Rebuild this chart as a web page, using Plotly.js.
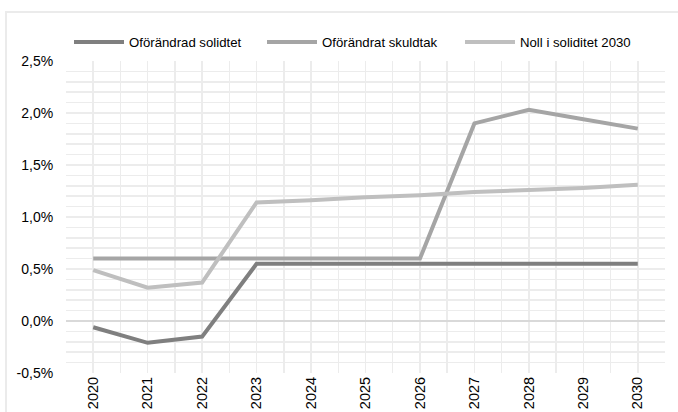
<!DOCTYPE html>
<html><head><meta charset="utf-8">
<script src="https://cdn.plot.ly/plotly-3.0.1.min.js"></script>
<style>
html,body{margin:0;padding:0;background:#fff;}
#frame{position:absolute;left:5px;top:11px;width:700px;height:420px;border:2px solid #ebebeb;box-sizing:border-box;}
#chart{position:absolute;left:0;top:0;width:678px;height:412px;}
</style></head>
<body>
<div id="frame"></div>
<div id="chart"></div>
<script>
const years = [2020,2021,2022,2023,2024,2025,2026,2027,2028,2029,2030];
const oforandradSolidtet = [-0.06,-0.21,-0.15,0.55,0.55,0.55,0.55,0.55,0.55,0.55,0.55];
const oforandratSkuldtak = [0.60,0.60,0.60,0.60,0.60,0.60,0.60,1.90,2.03,1.94,1.85];
const nollISoliditet = [0.49,0.32,0.37,1.14,1.16,1.19,1.21,1.24,1.26,1.28,1.31];
const seriesNames = ["Oförändrad solidtet","Oförändrat skuldtak","Noll i soliditet 2030"];
const yTicks = [-0.5,0,0.5,1.0,1.5,2.0,2.5];
const yTickText = ["-0,5%","0,0%","0,5%","1,0%","1,5%","2,0%","2,5%"];

const colors = ["#7f7f7f","#a5a5a5","#bfbfbf"];
const data = [oforandradSolidtet, oforandratSkuldtak, nollISoliditet].map((v,i)=>({
  x: years, y: v, name: seriesNames[i], type:'scatter', mode:'lines',
  line:{color:colors[i], width:4}, showlegend:false
}));

// manual legend (Excel-style long line samples)
const ML = 66, MT = 61, PW = 599, PH = 312;
const px = p => (p - ML) / PW;
const py = p => 1 + (MT - p) / PH;
const legendStarts = [74, 267, 465];
const legendY = 42;
const shapes = [], annotations = [];
seriesNames.forEach((n,i)=>{
  const s = legendStarts[i];
  shapes.push({type:'line', xref:'paper', yref:'paper', x0:px(s), x1:px(s+50), y0:py(legendY), y1:py(legendY),
    line:{color:colors[i], width:4}});
  annotations.push({xref:'paper', yref:'paper', x:px(s+53), y:py(legendY), xanchor:'left', yanchor:'middle',
    text:n, showarrow:false, font:{size:13.2, color:'#000'}});
});

const layout = {
  width:678, height:412,
  paper_bgcolor:'rgba(0,0,0,0)', plot_bgcolor:'rgba(0,0,0,0)',
  font:{family:'Liberation Sans, Arial, sans-serif', size:14, color:'#000'},
  margin:{l:ML, r:678-ML-PW, t:MT, b:412-MT-PH},
  showlegend:false,
  shapes, annotations,
  xaxis:{
    range:[2019.5,2030.5], tickvals:years, ticktext:years.map(String),
    tickangle:-90, showgrid:true, gridcolor:'#ececec', gridwidth:1.5,
    minor:{tickvals:years.map(y=>y-0.5).concat([2030.5]), showgrid:true, gridcolor:'#ececec', gridwidth:1.5},
    showline:false, zeroline:false, ticks:'', fixedrange:true,
    tickfont:{size:14.5}
  },
  yaxis:{
    range:[-0.5,2.5], tickvals:yTicks, ticktext:yTickText,
    showgrid:true, gridcolor:'#ececec', gridwidth:1.5,
    minor:{dtick:0.1, showgrid:true, gridcolor:'#ececec', gridwidth:1.5},
    zeroline:true, zerolinecolor:'#d9d9d9', zerolinewidth:1.5,
    showline:false, ticks:'outside', ticklen:9, tickcolor:'rgba(0,0,0,0)', fixedrange:true,
    tickfont:{size:14}
  }
};
Plotly.newPlot('chart', data, layout, {displayModeBar:false, staticPlot:true});
</script>
</body></html>
